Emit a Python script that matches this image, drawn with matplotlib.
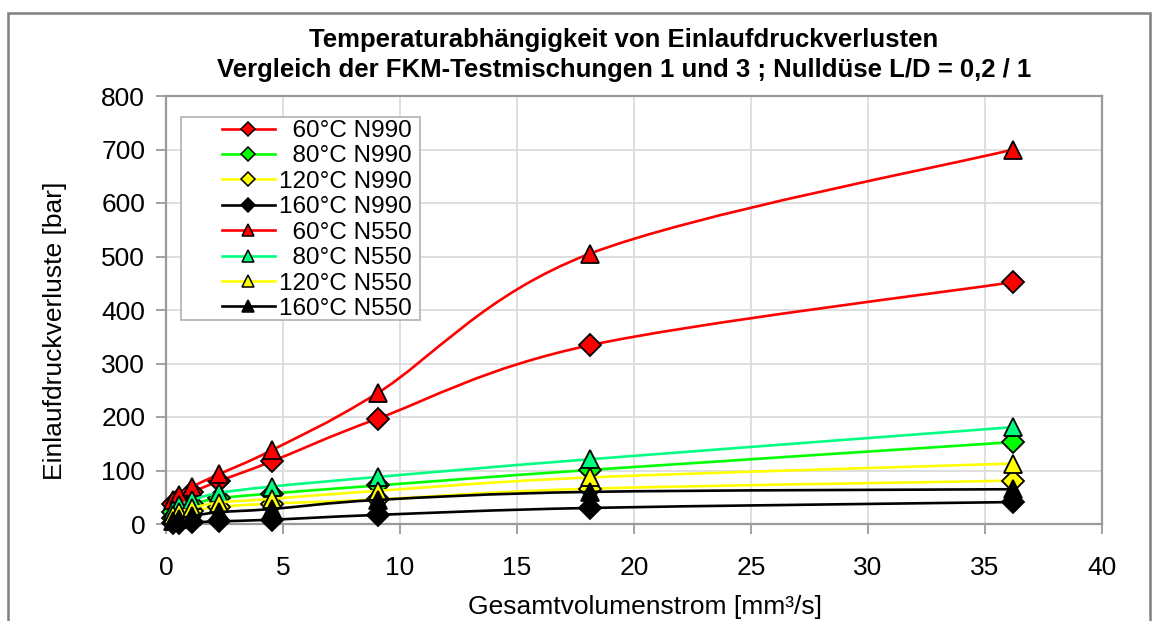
import numpy as np
import matplotlib
matplotlib.use('Agg')
import matplotlib.pyplot as plt
from matplotlib.path import Path
from matplotlib.patches import PathPatch, Rectangle
from matplotlib import rcParams

rcParams['font.family'] = ['Liberation Sans', 'DejaVu Sans']

# Gesamtvolumenstrom [mm³/s]
flow = [0.28, 0.57, 1.13, 2.26, 4.52, 9.05, 18.1, 36.2]

# Einlaufdruckverluste [bar]
p60_n990 = [38, 47, 60, 80, 117, 197, 334, 452]
p80_n990 = [22, 28, 37, 48, 57, 72, 101, 153]
p120_n990 = [12, 17, 24, 32, 38, 46, 66, 81]
p160_n990 = [1, 2, 3, 5, 8, 17, 30, 41]
p60_n550 = [45, 55, 70, 93, 138, 245, 505, 700]
p80_n550 = [27, 35, 45, 58, 70, 88, 121, 181]
p120_n550 = [16, 22, 30, 40, 47, 62, 87, 113]
p160_n550 = [6, 10, 15, 22, 28, 45, 60, 65]

labels = ['  60°C N990', '  80°C N990', '120°C N990', '160°C N990',
          '  60°C N550', '  80°C N550', '120°C N550', '160°C N550']
series = [p60_n990, p80_n990, p120_n990, p160_n990,
          p60_n550, p80_n550, p120_n550, p160_n550]
colors = ['#FF0000', '#00FF00', '#FFFF00', '#000000',
          '#FF0000', '#00FF80', '#FFFF00', '#000000']
markers = ['D', 'D', 'D', 'D', '^', '^', '^', '^']

W, H = 1158, 621


def smooth_path(x, y):
    """Bezier-Pfad wie die geglaettete Linie in Excel."""
    pts = np.column_stack([x, y]).astype(float)
    n = len(pts)
    verts = [pts[0]]
    codes = [Path.MOVETO]
    for i in range(n - 1):
        p_prev = pts[max(i - 1, 0)]
        p0 = pts[i]
        p1 = pts[i + 1]
        p_next = pts[min(i + 2, n - 1)]
        c1 = p0 + (p1 - p_prev) / 6
        c2 = p1 - (p_next - p0) / 6
        verts += [c1, c2, p1]
        codes += [Path.CURVE4] * 3
    return Path(verts, codes)


fig = plt.figure(figsize=(W / 100, H / 100), dpi=100)
ax = fig.add_axes([166 / W, 1 - 524 / H, (1102 - 166) / W, (524 - 96) / H])

# Rahmen um das ganze Diagramm
fig.patches.append(Rectangle((8 / W, -0.02), (1150 - 8) / W, (H - 13) / H + 0.02,
                             transform=fig.transFigure, fill=False,
                             edgecolor='#808080', linewidth=1.8))

for idx, (vals, lab) in enumerate(zip(series, labels)):
    z = 3 + idx
    ax.add_patch(PathPatch(smooth_path(flow, vals), facecolor='none',
                           edgecolor=colors[idx], linewidth=1.9, zorder=z))
    ax.plot(flow, vals, linestyle='none', marker=markers[idx],
            markersize=11.5 if markers[idx] == 'D' else 13.5,
            markerfacecolor=colors[idx], markeredgecolor='black',
            markeredgewidth=1.3, zorder=z, clip_on=False)
    # Legendeneintrag
    ax.plot([], [], color=colors[idx], linewidth=1.9, marker=markers[idx],
            markersize=7.5 if markers[idx] == 'D' else 9,
            markerfacecolor=colors[idx], markeredgecolor='black',
            markeredgewidth=1.1, label=lab)

ax.set_xlim(0, 40)
ax.set_ylim(0, 800)
ax.set_xticks(range(0, 41, 5))
ax.set_yticks(range(0, 801, 100))
ax.grid(True, color='#DCDCDC', linewidth=1.3)
ax.set_axisbelow(True)
for sp in ax.spines.values():
    sp.set_color('#9A9A9A')
    sp.set_linewidth(1.6)
ax.tick_params(axis='both', labelsize=19, color='#9A9A9A', width=1.3, length=7)
ax.tick_params(axis='x', pad=16)
ax.tick_params(axis='y', pad=8)

fig.text(624 / W, 1 - 40 / H, 'Temperaturabhängigkeit von Einlaufdruckverlusten',
         ha='center', va='center', fontsize=18.5, fontweight='bold')
fig.text(624 / W, 1 - 70 / H, 'Vergleich der FKM-Testmischungen 1 und 3 ; Nulldüse L/D = 0,2 / 1',
         ha='center', va='center', fontsize=18.5, fontweight='bold')
fig.text(55 / W, 1 - 331 / H, 'Einlaufdruckverluste [bar]', rotation=90,
         ha='center', va='center', fontsize=19)
fig.text(645 / W, 1 - 607 / H, 'Gesamtvolumenstrom [mm³/s]',
         ha='center', va='center', fontsize=19)

# Legende mit eigenem Rahmen (Eintraege rechtsbuendig wie in Excel)
ax.add_artist(Rectangle((181 / W, 1 - 320 / H), (420 - 181) / W, (320 - 117) / H,
                        transform=fig.transFigure, facecolor='white', clip_on=False,
                        edgecolor='#B0B0B0', linewidth=1.2, zorder=20))
handles, labs = ax.get_legend_handles_labels()
leg = ax.legend(handles, labs, loc='upper left',
                bbox_to_anchor=((222 - 166) / 936, 1 - (120 - 96) / 428),
                fontsize=17.5, frameon=False,
                handlelength=2.18, handletextpad=0.16, labelspacing=0.14,
                borderpad=0, borderaxespad=0)
leg.set_zorder(30)

fig.savefig('out.png', dpi=100)
